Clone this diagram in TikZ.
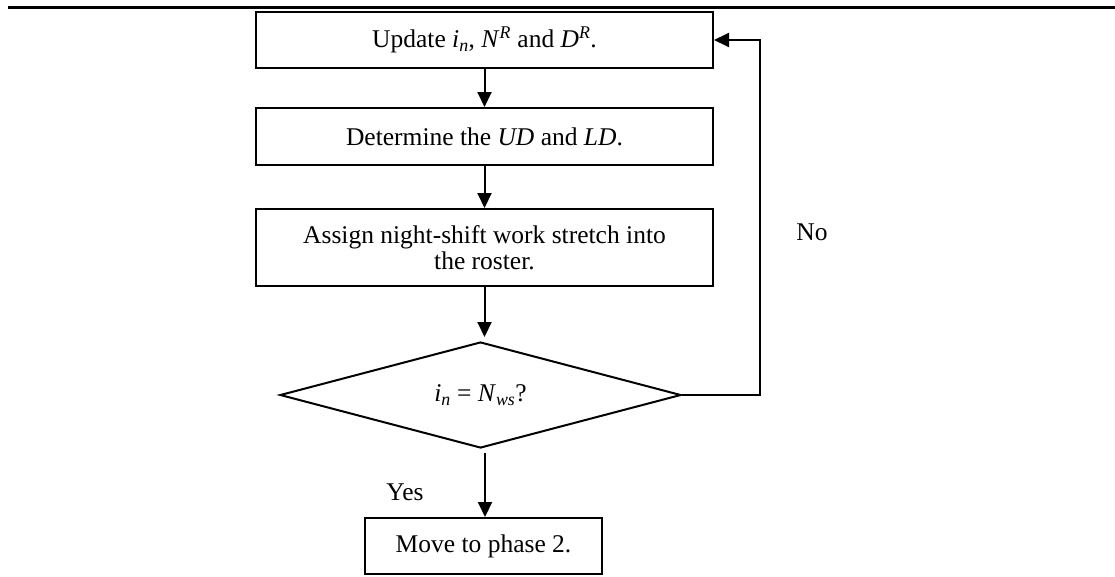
\documentclass[tikz,border=0pt]{standalone}
\usepackage{fontspec}
\setmainfont{Liberation Serif}
\usetikzlibrary{shapes.geometric,arrows.meta}
\tikzset{
  txt/.style={font=\fontsize{25.5}{25.5}\selectfont},
  box/.style={draw, line width=2pt, minimum width=457pt, inner sep=0pt, align=center, txt},
  decision/.style={draw, diamond, shape aspect=4, line width=2pt, minimum width=401pt, minimum height=106pt, inner sep=0pt, txt},
  lbl/.style={txt, inner sep=0pt},
  flow/.style={line width=2pt, -{Triangle[length=15pt,width=14pt]}}
}
\begin{document}
\begin{tikzpicture}[x=1pt,y=-1pt]
\useasboundingbox (0,0) rectangle (1115,576);
% rule across the top
\draw[line width=2.6pt] (8,7.5) -- (1115,7.5);
% steps
\node[box, minimum height=56pt] (upd) at (484.5,40) {Update \textit{i}\textsubscript{\textit{n}}, \textit{N}\textsuperscript{\textit{R}} and \textit{D}\textsuperscript{\textit{R}}.};
\node[box, minimum height=57pt] (det) at (484.5,136.5) {Determine the \textit{UD} and \textit{LD}.};
\node[box, minimum height=77pt] (asg) at (484.5,247.5) {Assign night-shift work stretch into\\the roster.};
\node[decision] (chk) at (480.5,395) {\textit{i}\textsubscript{\textit{n}} = \textit{N}\textsubscript{\textit{ws}}?};
\node[box, minimum width=237pt, minimum height=56pt] (mov) at (483.5,546) {Move to phase 2.};
% connectors
\coordinate (a3) at (484.5,337);
\coordinate (d0) at (485,453);
\coordinate (lp1) at (760,395);
\coordinate (lp2) at (760,40);
\draw[flow] (upd.south) -- (det.north);
\draw[flow] (det.south) -- (asg.north);
\draw[flow] (asg.south) -- (a3);
\draw[flow] (d0) -- (mov.north -| d0);
\draw[flow] (chk.east) -- (lp1) -- (lp2) -- (upd.east);
% branch labels
\node[lbl] (yes) at (405,492) {Yes};
\node[lbl] (no) at (812,232) {No};
\end{tikzpicture}
\end{document}
